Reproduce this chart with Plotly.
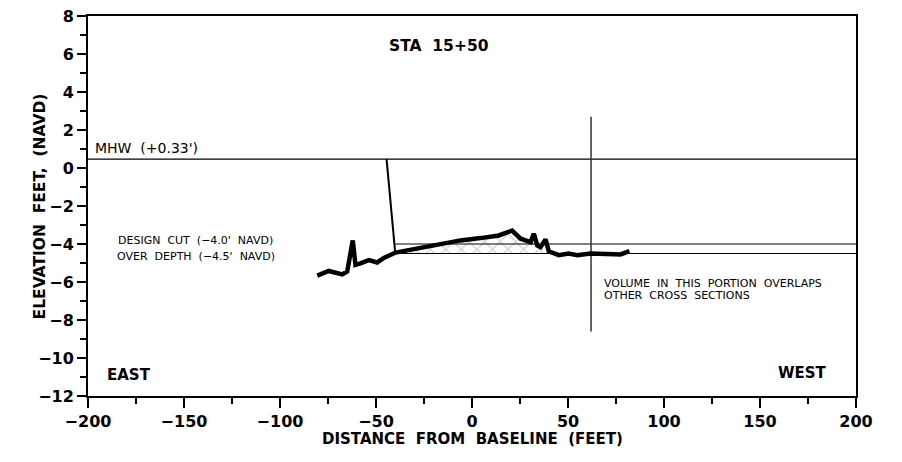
import plotly.graph_objects as go

# ground profile at STA 15+50 (distance ft, elevation ft NAVD)
ground_x = [-80.6, -74.6, -67.6, -65.0, -62.1, -60.7, -58.1, -53.7, -49.4, -45.9, -39.8,
            -28.5, -16.4, -6.0, 4.4, 14.0, 20.9, 25.3, 30.5, 32.2, 34.0, 35.7, 38.3, 40.0,
            45.2, 50.4, 54.8, 61.7, 73.9, 77.3, 82.0]
ground_y = [-5.66, -5.42, -5.60, -5.45, -3.81, -5.10, -5.02, -4.85, -4.97, -4.73, -4.45,
            -4.24, -4.02, -3.81, -3.69, -3.55, -3.29, -3.72, -3.90, -3.46, -4.07, -4.16, -3.76, -4.38,
            -4.59, -4.50, -4.59, -4.50, -4.54, -4.55, -4.38]

MHW = 0.47
DESIGN_CUT = -4.0
OVER_DEPTH = -4.5
CUT_START = -40
SLOPE_TOP_X = -44.5
OVERLAP_X = 62
OVERLAP_Y = [2.7, -8.6]
X_RANGE = [-200, 200]
Y_RANGE = [-12, 8]

FONT = "DejaVu Sans"

# hatched cut area: ground above over-depth between -40 and 40
hatch_x = [x for x in ground_x if CUT_START <= x <= 40]
hatch_y = [y for x, y in zip(ground_x, ground_y) if CUT_START <= x <= 40]
hatch_x = hatch_x + [40, CUT_START]
hatch_y = hatch_y + [OVER_DEPTH, OVER_DEPTH]

fig = go.Figure()

fig.add_trace(go.Scatter(
    x=hatch_x, y=hatch_y, mode="lines", fill="toself", line=dict(width=0),
    fillcolor="white",
    fillpattern=dict(shape="x", fgcolor="#a8a8a8", bgcolor="white", size=11, solidity=0.25),
))

fig.add_trace(go.Scatter(x=X_RANGE, y=[MHW, MHW], mode="lines",
                         line=dict(color="black", width=1.2)))
fig.add_trace(go.Scatter(x=[CUT_START, X_RANGE[1]], y=[DESIGN_CUT, DESIGN_CUT], mode="lines",
                         line=dict(color="black", width=1.2)))
fig.add_trace(go.Scatter(x=[CUT_START, X_RANGE[1]], y=[OVER_DEPTH, OVER_DEPTH], mode="lines",
                         line=dict(color="black", width=1.2)))
fig.add_trace(go.Scatter(x=[SLOPE_TOP_X, CUT_START], y=[MHW, -4.45], mode="lines",
                         line=dict(color="black", width=2)))
fig.add_trace(go.Scatter(x=[OVERLAP_X, OVERLAP_X], y=OVERLAP_Y, mode="lines",
                         line=dict(color="#333", width=1.5)))
fig.add_trace(go.Scatter(x=ground_x, y=ground_y, mode="lines",
                         line=dict(color="black", width=4.5)))

def note(x, y, text, size=11, anchor="center", bold=False, ref="x", **kw):
    fig.add_annotation(x=x, y=y, xref=ref, yref=ref.replace("x", "y"), text=text, showarrow=False,
                       xanchor=anchor, yanchor="middle",
                       font=dict(family=FONT, size=size, color="black",
                                 weight="bold" if bold else "normal"), **kw)

sp = "\u00a0\u00a0"
note(-17.4, 6.4, "STA" + sp + "15+50", size=15.5, bold=True)
note(-197.4, 1.05, "MHW" + sp + "(+0.33')", size=14, anchor="left")
note(-144, -3.8, sp.join(["DESIGN", "CUT", "(\u22124.0'", "NAVD)"]), size=11)
note(-144, -4.68, sp.join(["OVER", "DEPTH", "(\u22124.5'", "NAVD)"]), size=11)
note(67.8, -6.06, sp.join(["VOLUME", "IN", "THIS", "PORTION", "OVERLAPS"]), size=11, anchor="left")
note(67.8, -6.7, sp.join(["OTHER", "CROSS", "SECTIONS"]), size=11, anchor="left")
note(-191.4, -10.9, "EAST", size=15, anchor="left", bold=True)
note(185.7, -10.8, "WEST", size=15, anchor="right", bold=True)

# axis titles placed as paper annotations
note(0.5, -0.114, sp.join(["DISTANCE", "FROM", "BASELINE", "(FEET)"]), size=15, bold=True, ref="paper")
note(-0.062, 0.5, sp.join(["ELEVATION", "FEET,", "(NAVD)"]), size=15.5, bold=True, ref="paper",
     textangle=-90)

axis_common = dict(
    showgrid=False, zeroline=False, showline=True, linecolor="black", linewidth=2,
    mirror=True, ticks="outside", tickcolor="black", tickwidth=2, automargin=False,
    ticklabeloverflow="allow",
    tickfont=dict(family=FONT, size=16, color="black", weight="bold"),
)

fig.update_xaxes(range=X_RANGE, dtick=50, ticklen=10,
                 minor=dict(dtick=25, ticks="outside", ticklen=6, tickcolor="black", tickwidth=2),
                 **axis_common)
fig.update_yaxes(range=Y_RANGE, dtick=2, ticklen=9,
                 minor=dict(dtick=1, ticks="outside", ticklen=6, tickcolor="black", tickwidth=2),
                 **axis_common)

# page body adds 8px, so margins are shifted to put the plot box where the reference has it
fig.update_layout(
    width=902, height=462,
    margin=dict(l=80, r=54, t=8, b=74),
    paper_bgcolor="white", plot_bgcolor="white",
    showlegend=False,
)

fig.write_html("out.html")
